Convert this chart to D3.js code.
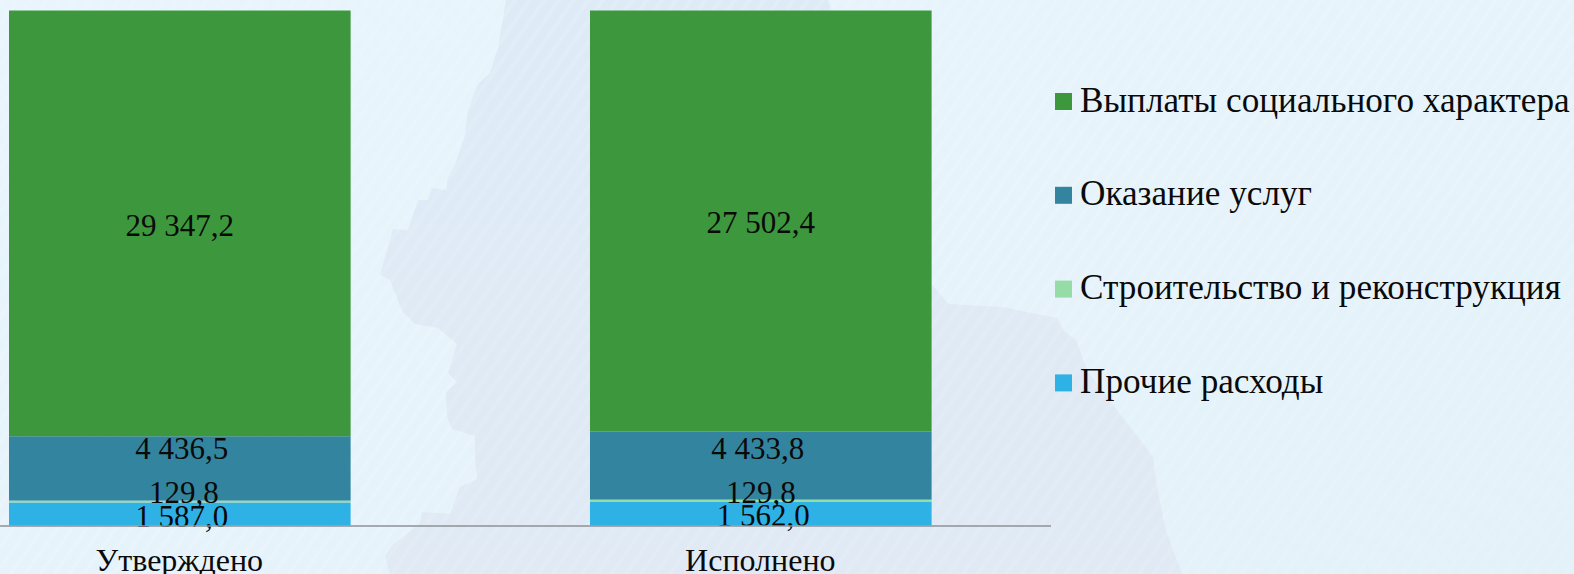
<!DOCTYPE html>
<html>
<head>
<meta charset="utf-8">
<script src="https://cdn.jsdelivr.net/npm/d3@7"></script>
<style>
  html, body { margin: 0; padding: 0; background: #e6f3fb; }
  svg { display: block; }
</style>
</head>
<body>
<svg id="chart" width="1574" height="574"></svg>
<script>
const categories = ["Утверждено", "Исполнено"];
const seriesNames = ["Прочие расходы", "Строительство и реконструкция", "Оказание услуг", "Выплаты социального характера"];
const other = [1587.0, 1562.0];
const construction = [129.8, 129.8];
const services = [4436.5, 4433.8];
const social = [29347.2, 27502.4];
const colors = ["#2eb2e6", "#95dca6", "#33859f", "#3d973d"];
// legend goes top to bottom, reverse of the stack
const legendOrder = ["Выплаты социального характера", "Оказание услуг", "Строительство и реконструкция", "Прочие расходы"];

// background map silhouette, decoration only
const mapOutline = [[506,0],[498,48],[490,73],[478,84],[468,110],[465,135],[455,165],[447,179],[447,190],[432,188],[428,200],[418,200],[408,230],[393,229],[380,275],[390,280],[402,311],[415,324],[438,328],[457,344],[448,373],[457,382],[446,392],[447,417],[452,429],[475,436],[475,457],[477,479],[460,487],[450,514],[422,512],[420,523],[393,545],[385,556],[390,574],[1182,574],[1166,531],[1157,487],[1153,457],[1120,414],[1087,370],[1076,340],[1064,331],[1057,318],[1003,307],[949,304],[932,285],[905,200],[860,90],[828,0]];

const width = 1574, height = 574;
const margin = { top: 10.5, left: 9, baseline: 525.5 };
// the labels were dragged by hand in the original, per series and category
const labelNudgeY = {
    "Прочие расходы": [2.5, 2],
    "Строительство и реконструкция": [-9.5, -8.5],
    "Оказание услуг": [-20, -17],
    "Выплаты социального характера": [2.5, 1.5]
};
const labelNudgeX = {
    "Прочие расходы": [2, 2.5],
    "Строительство и реконструкция": [4, 0],
    "Оказание услуг": [2, -3],
    "Выплаты социального характера": [0, 0]
};

const rows = categories.map((c, i) => ({
    cat: c,
    [seriesNames[0]]: other[i],
    [seriesNames[1]]: construction[i],
    [seriesNames[2]]: services[i],
    [seriesNames[3]]: social[i]
}));

const stacked = d3.stack()
    .keys(seriesNames)
    .offset(d3.stackOffsetExpand)(rows);

const x = d3.scaleBand()
    .domain(categories)
    .range([0, 922.6])
    .paddingInner(0.412)
    .paddingOuter(0);
const y = d3.scaleLinear().domain([0, 1]).range([margin.baseline, margin.top]);
const color = d3.scaleOrdinal().domain(seriesNames).range(colors);
const fmt = v => d3.format(",.1f")(v).replace(/,/g, " ").replace(".", ",");

const svg = d3.select("#chart");
const defs = svg.append("defs");

const bg = defs.append("linearGradient").attr("id", "bg")
    .attr("x1", 0).attr("y1", 0).attr("x2", 1).attr("y2", 1);
bg.append("stop").attr("offset", "0%").attr("stop-color", "#e9f5fc");
bg.append("stop").attr("offset", "100%").attr("stop-color", "#e3f1f9");

const mapFill = defs.append("linearGradient").attr("id", "mapFill")
    .attr("x1", 0).attr("y1", 0).attr("x2", 0).attr("y2", 1);
mapFill.append("stop").attr("offset", "0%").attr("stop-color", "#deebf6");
mapFill.append("stop").attr("offset", "100%").attr("stop-color", "#e0e9f4");

const stripes = defs.append("pattern").attr("id", "stripes")
    .attr("width", 12).attr("height", 12)
    .attr("patternUnits", "userSpaceOnUse")
    .attr("patternTransform", "rotate(-55)");
stripes.append("rect").attr("width", 12).attr("height", 4)
    .attr("fill", "#ffffff").attr("fill-opacity", 0.1);

svg.append("rect").attr("width", width).attr("height", height).attr("fill", "url(#bg)");
svg.append("path").attr("d", d3.line()(mapOutline) + "Z").attr("fill", "url(#mapFill)");
svg.append("rect").attr("width", width).attr("height", height).attr("fill", "url(#stripes)");

const g = svg.append("g").attr("transform", `translate(${margin.left},0)`);

// create bars
g.append("g")
    .selectAll("g")
    .data(stacked)
    .join("g")
    .attr("fill", d => color(d.key))
    .selectAll("rect")
    .data(d => d)
    .join("rect")
    .attr("x", d => x(d.data.cat))
    .attr("y", d => y(d[1]))
    .attr("width", x.bandwidth())
    .attr("height", d => y(d[0]) - y(d[1]));

// baseline
svg.append("line")
    .attr("x1", 0).attr("x2", 1051)
    .attr("y1", margin.baseline + 0.5).attr("y2", margin.baseline + 0.5)
    .attr("stroke", "#8e9296").attr("stroke-width", 1.6);

// value labels
g.append("g")
    .attr("font-family", "'Liberation Serif', serif")
    .attr("font-size", 31)
    .attr("fill", "#0a0a0a")
    .attr("text-anchor", "middle")
    .selectAll("g")
    .data(stacked)
    .join("g")
    .selectAll("text")
    .data(d => d.map((v, i) => ({ v, i, key: d.key })))
    .join("text")
    .attr("x", d => x(d.v.data.cat) + x.bandwidth() / 2 + labelNudgeX[d.key][d.i])
    .attr("y", d => (y(d.v[0]) + y(d.v[1])) / 2 + labelNudgeY[d.key][d.i])
    .attr("dy", "0.34em")
    .text(d => fmt(d.v.data[d.key]));

// category labels
svg.append("g")
    .attr("font-family", "'Liberation Serif', serif")
    .attr("font-size", 32)
    .attr("fill", "#0a0a0a")
    .attr("text-anchor", "middle")
    .selectAll("text")
    .data(categories)
    .join("text")
    .attr("x", d => margin.left + x(d) + x.bandwidth() / 2 - 0.5)
    .attr("y", 571)
    .text(d => d);

// legend
const legend = svg.append("g")
    .selectAll("g")
    .data(legendOrder)
    .join("g")
    .attr("transform", (d, i) => `translate(1055,${101.5 + i * 93.8})`);

legend.append("rect")
    .attr("y", -8.5)
    .attr("width", 17).attr("height", 17)
    .attr("fill", d => color(d));

legend.append("text")
    .attr("x", 25)
    .attr("y", 10)
    .attr("font-family", "'Liberation Serif', serif")
    .attr("font-size", 35.2)
    .attr("fill", "#0a0a0a")
    .text(d => d);
</script>
</body>
</html>
